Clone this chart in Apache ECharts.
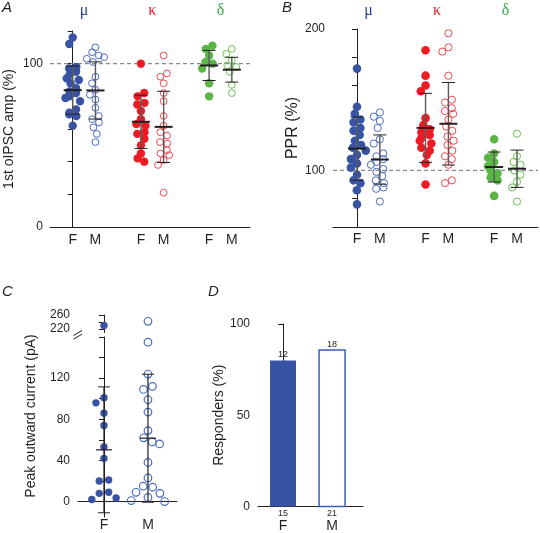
<!DOCTYPE html>
<html><head><meta charset="utf-8">
<script src="https://cdn.jsdelivr.net/npm/echarts@6/dist/echarts.min.js"></script>
<style>html,body{margin:0;padding:0;background:#fff}#c{width:540px;height:533px}</style>
</head><body><div id="c"></div>
<script>
// ---------- categories ----------
const opioids = ['μ', 'κ', 'δ'];
const sexes = ['F', 'M'];
const panelLetters = ['A', 'B', 'C', 'D'];

// ---------- A: 1st oIPSC amp (%) ----------
const ampMuF  = [116, 112, 98, 97, 95, 93, 91, 90, 88, 85, 83, 82, 80, 79, 77, 72, 70, 69, 68, 62];
const ampMuM  = [110, 107, 105, 104, 103, 101, 92, 88, 84, 81, 78, 73, 68, 66, 64, 61, 57, 52];
const ampKapF = [100, 82, 80, 76, 75, 71, 66, 63, 62, 58, 57, 54, 50, 45, 42, 40];
const ampKapM = [105, 94, 92, 88, 82, 77, 68, 62, 58, 56, 52, 51, 47, 45, 44, 41, 38, 21];
const ampDelF = [111, 109, 105, 101, 100, 97, 88, 80];
const ampDelM = [109, 106, 102, 99, 98, 95, 87, 82];
const ampMeanF = [83.8, 64.4, 98.9];
const ampSdF   = [14.7, 16.3, 9.2];
const ampMeanM = [83.6, 61.3, 96.3];
const ampSdM   = [17.5, 21.8, 7.6];
const ampTickLabels = [0, 100];

// ---------- B: PPR (%) ----------
const pprMuF  = [172, 145, 140, 136, 134, 130, 128, 125, 121, 118, 116, 114, 111, 108, 105, 102, 97, 93, 91, 86, 76];
const pprMuM  = [141, 138, 135, 130, 122, 119, 112, 110, 108, 106, 104, 101, 99, 96, 93, 91, 88, 87, 78];
const pprKapF = [185, 167, 160, 156, 137, 132, 129, 127, 125, 123, 121, 119, 116, 114, 111, 105, 90];
const pprKapM = [197, 187, 184, 167, 150, 148, 144, 142, 140, 136, 131, 128, 124, 121, 118, 114, 110, 108, 104, 93, 91];
const pprDelF = [122, 112, 109, 106, 103, 100, 98, 95, 93, 82];
const pprDelM = [126, 110, 106, 104, 100, 97, 92, 88, 78];
const pprMeanF = [115.4, 130.1, 102.4];
const pprSdF   = [22.3, 24.4, 10.6];
const pprMeanM = [107.7, 133.0, 101.2];
const pprSdM   = [17.4, 29.2, 13.2];
const pprTickLabels = [100, 200];

// ---------- C: Peak outward current (pA) ----------
const currF = [230, 101, 96, 86, 74, 53, 42, 21, 20, 9, 8, 3.5, 2];
const currM = [242, 155, 124, 112, 109, 99, 87, 69, 62, 58, 56, 38, 23, 15, 14, 9, 8, 4, 1, 0];
const currMean = [50.3, 61.6];
const currSd   = [61.2, 62.2];
const currTickLabelsLow  = [0, 40, 80, 120];
const currTickLabelsHigh = [220, 260];

// ---------- D: Responders (%) ----------
const responders = [12, 18];
const cellsTested = [15, 21];
const respTickLabels = [0, 50, 100];

const refLevel = 100;

// ---------- styles ----------
const INK = '#231f20';
const FONT = '"Liberation Sans", Arial, sans-serif';
const SERIF = '"Liberation Serif", "DejaVu Serif", serif';
const fillCols = ['#3953a4', '#ed1c24', '#5ab446'];
const openCols = ['#4a6cc0', '#f0474f', '#6cc052'];
const greekCols = ['#2e3f98', '#ed1c24', '#3bab4b'];

const xPos = (g, s) => g * 3 + s;

// beeswarm: greedy placement, then rows of near-equal values are centred
function swarmOffsets(ys, d) {
  const idx = ys.map((y, i) => i).sort((a, b) => ys[a] - ys[b]);
  const placed = [];
  const off = new Array(ys.length).fill(0);
  idx.forEach(i => {
    const y = ys[i];
    const cands = [0];
    placed.forEach(p => {
      const dy = Math.abs(p.y - y);
      if (dy < d) { const dx = Math.sqrt(d * d - dy * dy); cands.push(p.x + dx, p.x - dx); }
    });
    cands.sort((a, b) => Math.abs(a) - Math.abs(b) || a - b);
    let x = 0;
    for (const c of cands) {
      if (placed.every(p => Math.hypot(p.x - c, p.y - y) >= d - 1e-6)) { x = c; break; }
    }
    placed.push({ x, y });
    off[i] = x;
  });
  // centre rows
  let row = [idx[0]];
  const flush = () => {
    if (row.length > 1) {
      const m = row.reduce((s, k) => s + off[k], 0) / row.length;
      row.forEach(k => { off[k] -= m; });
    }
  };
  for (let j = 1; j < idx.length; j++) {
    if (Math.abs(ys[idx[j]] - ys[row[0]]) < d * 0.5) row.push(idx[j]);
    else { flush(); row = [idx[j]]; }
  }
  if (idx.length) flush();
  return off;
}

function dotSeries(ax, x, values, o) {
  let offs = null;
  return {
    type: 'custom', xAxisIndex: ax, yAxisIndex: ax, clip: false, z: 2, silent: true,
    encode: { x: 0, y: 1 },
    data: values.map(v => [x, v]),
    renderItem(params, api) {
      if (!offs) offs = swarmOffsets(values.map(v => api.coord([x, v])[1]), o.d);
      const c = api.coord([api.value(0), api.value(1)]);
      return {
        type: 'circle',
        shape: { cx: c[0] + offs[params.dataIndex], cy: c[1], r: o.r },
        style: o.filled ? { fill: o.color, stroke: null }
                        : { fill: 'none', stroke: o.color, lineWidth: o.lw }
      };
    }
  };
}

function errSeries(ax, items, o) {
  return {
    type: 'custom', xAxisIndex: ax, yAxisIndex: ax, clip: false, z: 4, silent: true,
    encode: { x: 0, y: 1 },
    data: items,
    renderItem(params, api) {
      const x = api.value(0), m = api.value(1), s = api.value(2);
      const t = api.coord([x, m + s]), b = api.coord([x, m - s]), c = api.coord([x, m]);
      const ln = (x1, y1, x2, y2, col, w) => ({ type: 'line', shape: { x1, y1, x2, y2 }, style: { stroke: col, lineWidth: w } });
      return { type: 'group', children: [
        ln(t[0], t[1], b[0], b[1], o.vCol, o.vW),
        ln(t[0] - o.cap, t[1], t[0] + o.cap, t[1], INK, 1),
        ln(b[0] - o.cap, b[1], b[0] + o.cap, b[1], INK, 1),
        ln(c[0] - o.mean, c[1], c[0] + o.mean, c[1], INK, o.meanW)
      ]};
    }
  };
}

function refSeries(ax, level) {
  return {
    type: 'custom', xAxisIndex: ax, yAxisIndex: ax, clip: false, z: 1, silent: true,
    data: [[0, level]], encode: { x: 0, y: 1 },
    renderItem(params, api) {
      const cs = params.coordSys;
      const y = api.coord([0, api.value(1)])[1];
      return { type: 'line', shape: { x1: cs.x, y1: y, x2: cs.x + cs.width, y2: y },
        style: { stroke: '#8a8a8a', lineWidth: 1.2, lineDash: [4, 3] } };
    }
  };
}

const series = [];
function addDotPanel(ax, Fsets, Msets, meanF, sdF, meanM, sdM, o) {
  series.push(refSeries(ax, refLevel));
  for (let g = 0; g < 3; g++) {
    series.push(dotSeries(ax, xPos(g, 0), Fsets[g], { filled: true, color: fillCols[g], r: o.rF, d: o.d }));
    series.push(dotSeries(ax, xPos(g, 1), Msets[g], { filled: false, color: openCols[g], r: o.rM, lw: 1, d: o.d }));
  }
  const items = [];
  for (let g = 0; g < 3; g++) {
    items.push([xPos(g, 0), meanF[g], sdF[g]]);
    items.push([xPos(g, 1), meanM[g], sdM[g]]);
  }
  series.push(errSeries(ax, items, { vCol: '#5a5a5a', vW: 1.4, cap: 6.5, mean: 9, meanW: 2 }));
}
addDotPanel(0, [ampMuF, ampKapF, ampDelF], [ampMuM, ampKapM, ampDelM], ampMeanF, ampSdF, ampMeanM, ampSdM, { rF: 4.2, rM: 3.4, d: 7.4 });
addDotPanel(1, [pprMuF, pprKapF, pprDelF], [pprMuM, pprKapM, pprDelM], pprMeanF, pprSdF, pprMeanM, pprSdM, { rF: 4.3, rM: 3.6, d: 7.4 });

// C panel
const cLowMax = 160, cHighMin = 210, cHighMax = 260;
const cXMin = -0.59, cXMax = 1.66;
series.push(dotSeries(2, 0, currF.filter(v => v <= cLowMax), { filled: true, color: fillCols[0], r: 3.7, d: 9.5 }));
series.push(dotSeries(2, 1, currM.filter(v => v <= cLowMax), { filled: false, color: openCols[0], r: 3.8, lw: 1.2, d: 9.5 }));
series.push(dotSeries(3, 0, currF.filter(v => v > cLowMax), { filled: true, color: fillCols[0], r: 3.7, d: 9.5 }));
series.push(dotSeries(3, 1, currM.filter(v => v > cLowMax), { filled: false, color: openCols[0], r: 3.8, lw: 1.2, d: 9.5 }));
series.push(errSeries(2, [[0, currMean[0], currSd[0]], [1, currMean[1], currSd[1]]], { vCol: INK, vW: 1.2, cap: 6, mean: 8, meanW: 1.2 }));
// axis break marks
series.push({
  type: 'custom', xAxisIndex: 3, yAxisIndex: 3, clip: false, z: 5, silent: true,
  data: [[cXMin, cHighMin]], encode: { x: 0, y: 1 },
  renderItem(params, api) {
    const p = api.coord([api.value(0), api.value(1)]);
    const mk = dy => ({ type: 'line', shape: { x1: p[0] - 4.5, y1: p[1] + dy + 2.5, x2: p[0] + 4, y2: p[1] + dy - 2.5 }, style: { stroke: INK, lineWidth: 1 } });
    return { type: 'group', children: [mk(0.5), mk(4.2)] };
  }
});

// D panel bars
series.push({
  type: 'custom', xAxisIndex: 4, yAxisIndex: 4, clip: false, z: 3, silent: true,
  encode: { x: 0, y: 1 },
  data: responders.map((r, i) => [i, 100 * r / cellsTested[i], r]),
  renderItem(params, api) {
    const i = api.value(0), v = api.value(1), r = api.value(2);
    const base = api.coord([i, 0]), top = api.coord([i, v]);
    const filled = i === 0;
    return { type: 'group', children: [
      { type: 'rect', shape: { x: base[0] - 13, y: top[1], width: 26, height: base[1] - top[1] },
        style: filled ? { fill: '#3953a4' } : { fill: '#fff', stroke: '#3b5cb8', lineWidth: 1.5 } },
      { type: 'text', style: { text: String(r), x: top[0], y: top[1] - 1.5, align: 'center', verticalAlign: 'bottom',
        fontSize: 9, fontFamily: FONT, fill: INK } }
    ]};
  }
});

const axLine = { show: true, lineStyle: { color: INK, width: 1 } };
const tick = { show: true, length: 5, lineStyle: { color: INK, width: 1 } };
const lab = (extra) => Object.assign({ color: INK, fontFamily: FONT, fontSize: 12 }, extra);
const nameStyle = (size, extra) => Object.assign({ color: INK, fontFamily: FONT, fontSize: size }, extra || {});

const sexLabel = { customValues: [0, 1, 3, 4, 6, 7], formatter: v => sexes[Math.round(v) % 3], color: INK, fontFamily: FONT, fontSize: 14 };
const greekRich = {};
opioids.forEach((g, i) => { greekRich['g' + i] = { color: greekCols[i], fontFamily: SERIF, fontSize: 16 }; });
const greekLabel = (margin) => ({ customValues: [0.5, 3.5, 6.5], margin,
  formatter: v => { const g = Math.round((v - 0.5) / 3); return '{g' + g + '|' + opioids[g] + '}'; }, rich: greekRich });

const gridBase = { outerBoundsMode: 'none', containLabel: false };
const option = {
  animation: false,
  backgroundColor: '#fff',
  title: [
    { text: panelLetters[0], left: 2, top: 0 },
    { text: panelLetters[1], left: 282, top: 0 },
    { text: panelLetters[2], left: 2, top: 284 },
    { text: panelLetters[3], left: 208, top: 284 }
  ].map(t => Object.assign(t, { padding: 0, textStyle: { fontStyle: 'italic', fontWeight: 'normal', fontSize: 15, fontFamily: FONT, color: INK } })),
  grid: [
    { left: 50, top: 31, width: 200, height: 196 },
    { left: 333, top: 29, width: 205, height: 198 },
    { left: 78, top: 337, width: 99, height: 180 },
    { left: 78, top: 315, width: 99, height: 17.5 },
    { left: 258, top: 324, width: 105, height: 182.5 }
  ].map(g => Object.assign(g, gridBase)),
  xAxis: [
    { gridIndex: 0, type: 'value', min: -1, max: 7.8, axisLine: axLine, axisTick: { show: false }, splitLine: { show: false }, axisLabel: Object.assign({ margin: 6 }, sexLabel) },
    { gridIndex: 1, type: 'value', min: -1.05, max: 7.92, axisLine: axLine, axisTick: { show: false }, splitLine: { show: false }, axisLabel: Object.assign({ margin: 5 }, sexLabel) },
    { gridIndex: 2, type: 'value', min: cXMin, max: cXMax, axisLine: Object.assign({ onZero: true }, axLine), axisTick: { show: false }, splitLine: { show: false },
      axisLabel: { customValues: [0, 1], formatter: v => sexes[Math.round(v)], margin: 1, color: INK, fontFamily: FONT, fontSize: 14 } },
    { gridIndex: 3, type: 'value', min: cXMin, max: cXMax, show: false },
    { gridIndex: 4, type: 'value', min: -0.51, max: 1.63, axisLine: axLine, axisTick: { show: false }, splitLine: { show: false },
      axisLabel: { customValues: [0, 1], margin: 2, formatter: v => { const i = Math.round(v); return '{n|' + cellsTested[i] + '}\n{s|' + sexes[i] + '}'; },
        rich: { n: { fontSize: 9, lineHeight: 10, color: INK, fontFamily: FONT }, s: { fontSize: 14, lineHeight: 16, color: INK, fontFamily: FONT } } } },
    { gridIndex: 0, type: 'value', position: 'top', min: -1, max: 7.8, axisLine: { show: false }, axisTick: { show: false }, splitLine: { show: false }, axisLabel: greekLabel(12) },
    { gridIndex: 1, type: 'value', position: 'top', min: -1.05, max: 7.92, axisLine: { show: false }, axisTick: { show: false }, splitLine: { show: false }, axisLabel: greekLabel(10) }
  ],
  yAxis: [
    { gridIndex: 0, type: 'value', min: 0, max: 120, interval: 20, axisLine: axLine, axisTick: tick, splitLine: { show: false },
      axisLabel: lab({ customValues: ampTickLabels, margin: 7 }),
      name: '1st oIPSC amp (%)', nameLocation: 'middle', nameGap: 34, nameTextStyle: nameStyle(14) },
    { gridIndex: 1, type: 'value', min: 60, max: 200, interval: 20, axisLine: axLine, axisTick: tick, splitLine: { show: false },
      axisLabel: lab({ customValues: pprTickLabels, margin: 8 }),
      name: 'PPR (%)', nameLocation: 'middle', nameGap: 27, nameTextStyle: nameStyle(16) },
    { gridIndex: 2, type: 'value', min: -15, max: cLowMax, axisLine: axLine, splitLine: { show: false },
      axisTick: Object.assign({ customValues: [0, 20, 40, 60, 80, 100, 120, 140, 160] }, tick),
      axisLabel: lab({ customValues: currTickLabelsLow, margin: 8 }),
      name: 'Peak outward current (pA)', nameLocation: 'middle', nameGap: 40, nameTextStyle: nameStyle(14, { padding: [0, 0, 0, 22] }) },
    { gridIndex: 3, type: 'value', min: cHighMin, max: cHighMax, axisLine: axLine, splitLine: { show: false },
      axisTick: Object.assign({ customValues: [220, 240, 260] }, tick),
      axisLabel: lab({ customValues: currTickLabelsHigh, margin: 8 }) },
    { gridIndex: 4, type: 'value', min: 0, max: 100, interval: 25, axisLine: axLine, axisTick: tick, splitLine: { show: false },
      axisLabel: lab({ customValues: respTickLabels, margin: 8 }),
      name: 'Responders (%)', nameLocation: 'middle', nameGap: 29, nameTextStyle: nameStyle(14) }
  ],
  series
};

const chart = echarts.init(document.getElementById('c'), null, { renderer: 'canvas' });
chart.setOption(option);
</script>
</body></html>
